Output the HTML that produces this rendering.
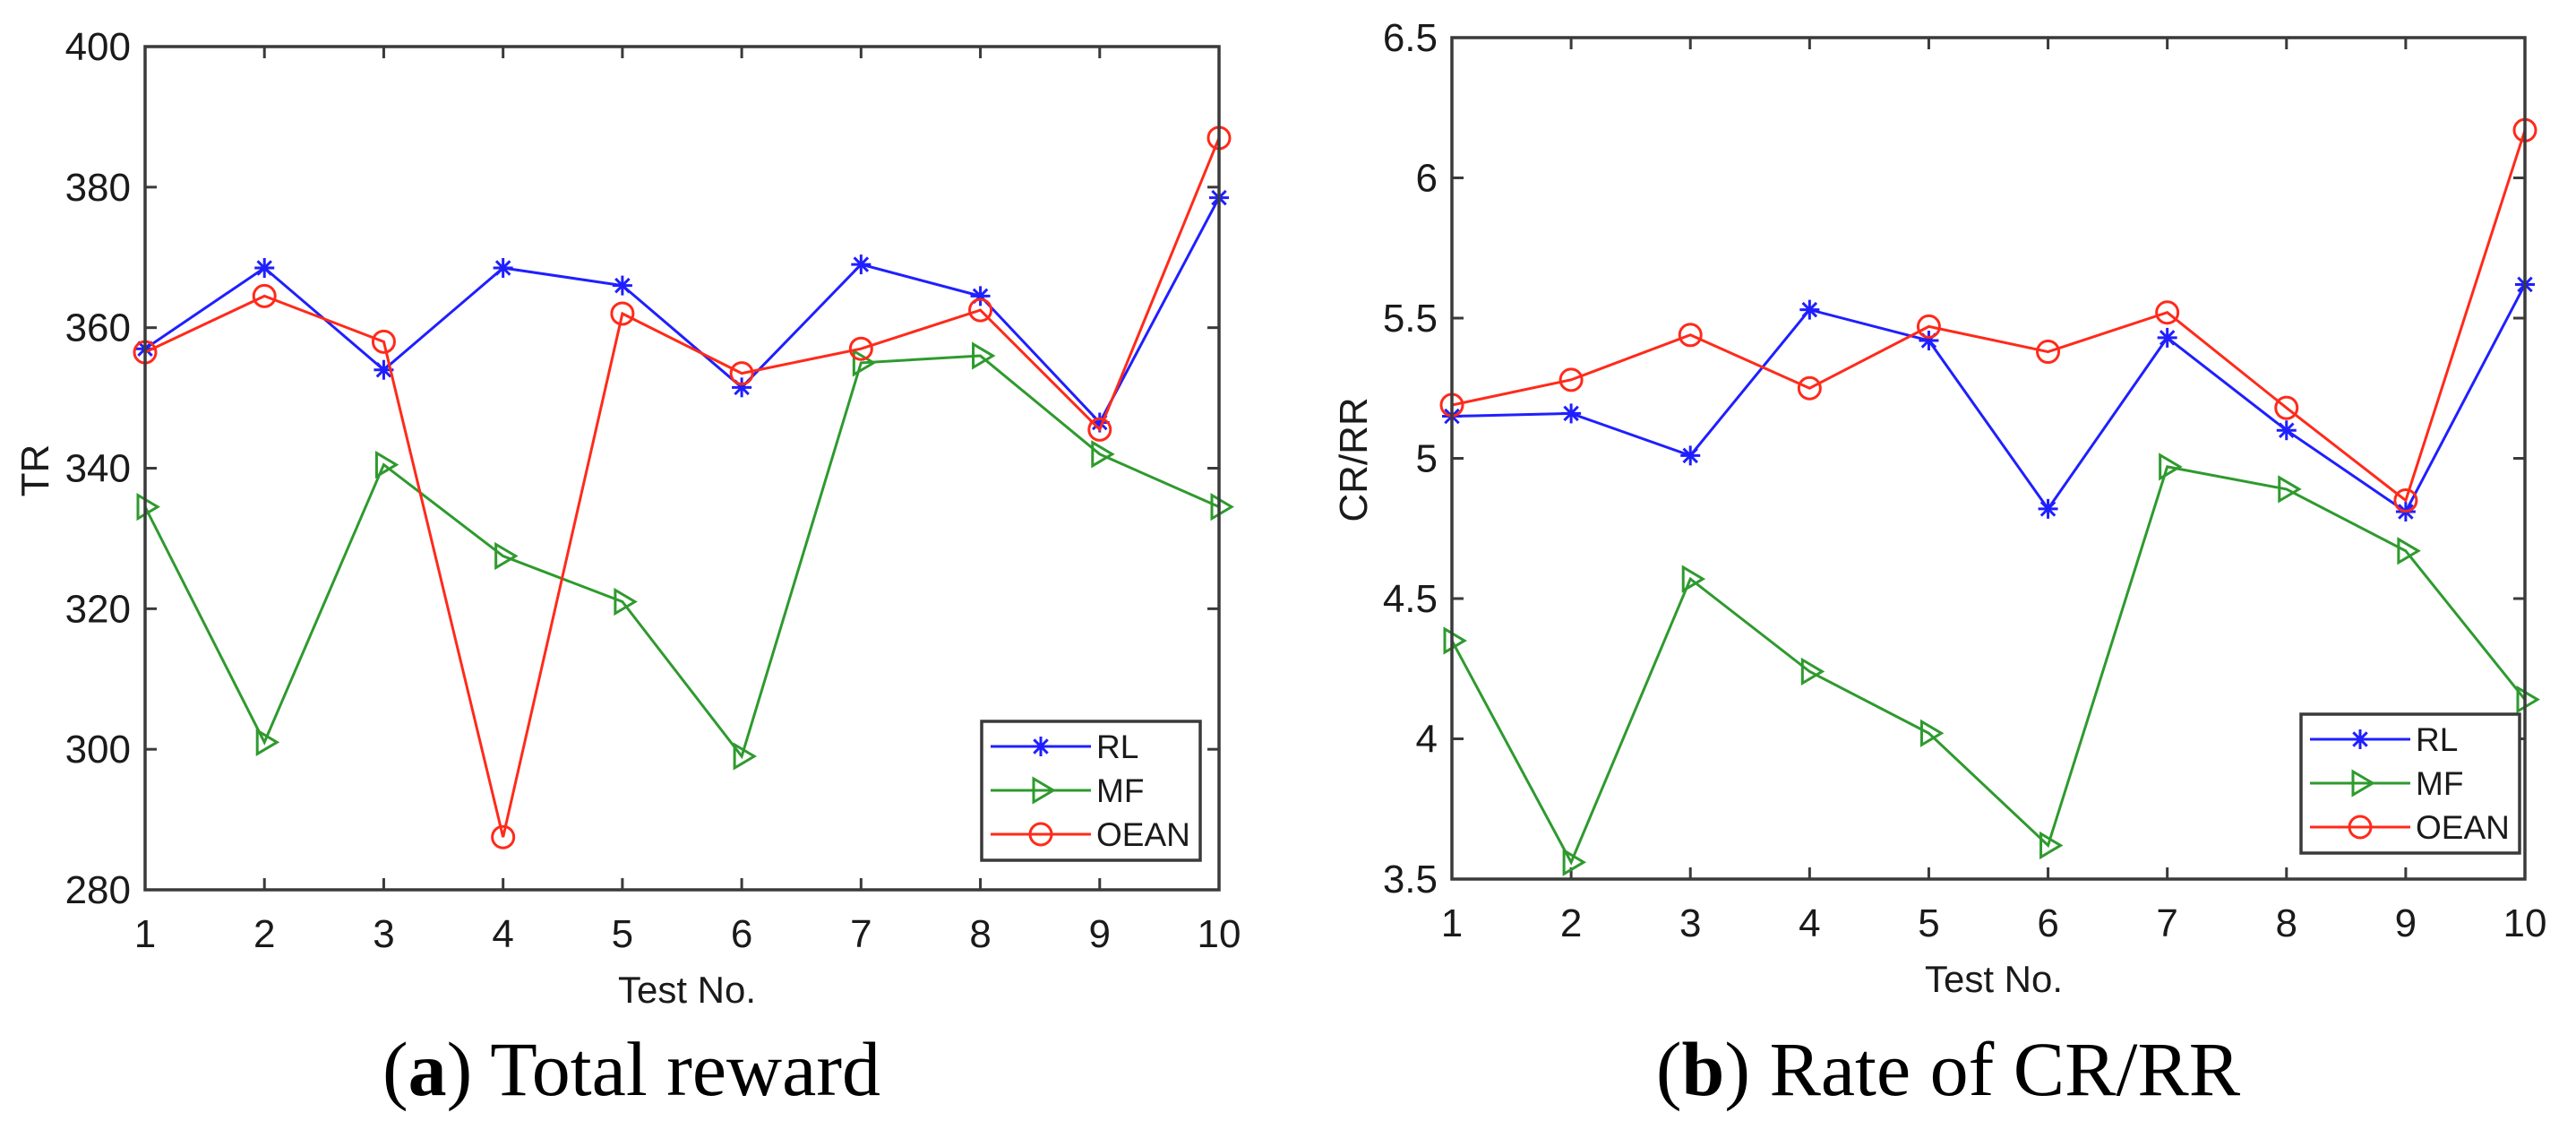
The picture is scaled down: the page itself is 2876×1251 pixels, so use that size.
<!DOCTYPE html>
<html><head><meta charset="utf-8"><style>
html,body{margin:0;padding:0;background:#fff;}
svg{display:block;}
text{font-family:"Liberation Sans",Arial,sans-serif;fill:#1a1a1a;}
.cap{font-family:"Liberation Serif",serif;fill:#000;}
</style></head><body>
<svg id="fig" width="2876" height="1251" viewBox="0 0 2876 1251" xmlns="http://www.w3.org/2000/svg"></svg>
<script>
const testNos = [1,2,3,4,5,6,7,8,9,10];
const trTicks = [280,300,320,340,360,380,400];
const trRL = [357,368.5,354,368.5,366,351.5,369,364.5,346.5,378.5];
const trMF = [334.5,301,340.5,327.5,321,299,355,356,342,334.5];
const trOEAN = [356.5,364.5,358,287.5,362,353.5,357,362.5,345.5,387];
const crTicks = [3.5,4,4.5,5,5.5,6,6.5];
const crTickLabels = ["3.5","4","4.5","5","5.5","6","6.5"];
const crRL = [5.15,5.16,5.01,5.53,5.42,4.82,5.43,5.10,4.81,5.62];
const crMF = [4.35,3.56,4.57,4.24,4.02,3.62,4.97,4.89,4.67,4.14];
const crOEAN = [5.19,5.28,5.44,5.25,5.47,5.38,5.52,5.18,4.85,6.17];
const seriesNames = ["RL","MF","OEAN"];

const NS="http://www.w3.org/2000/svg";
const svg=document.getElementById('fig');
function mk(tag,attrs,parent){const e=document.createElementNS(NS,tag);for(const k in attrs)e.setAttribute(k,attrs[k]);(parent||svg).appendChild(e);return e;}
const colors={RL:"#1f1fff",MF:"#2e9a2e",OEAN:"#ff2a1a"};

function marker(g,type,x,y){
  let m;
  if(type==="RL"){
    m=mk('g',{stroke:colors.RL,'stroke-width':3},g);
    const r=11;
    mk('line',{x1:x-r,y1:y,x2:x+r,y2:y},m);
    mk('line',{x1:x,y1:y-r,x2:x,y2:y+r},m);
    mk('line',{x1:x-r*0.7,y1:y-r*0.7,x2:x+r*0.7,y2:y+r*0.7},m);
    mk('line',{x1:x-r*0.7,y1:y+r*0.7,x2:x+r*0.7,y2:y-r*0.7},m);
  } else if(type==="MF"){
    m=mk('polygon',{points:`${x-8},${y-13} ${x+14},${y} ${x-8},${y+13}`,fill:'none',stroke:colors.MF,'stroke-width':3},g);
  } else {
    m=mk('circle',{cx:x,cy:y,r:12,fill:'none',stroke:colors.OEAN,'stroke-width':3},g);
  }
  return m;
}

function chart(cfg){
  const {L,R,T,B,ymin,ymax,yticks,ylabels,series,name,ytitle,ytx,yty,xtitleX,xtitleY,xlabY,legX,legY,capX,capText,capLetter}=cfg;
  const g=mk('g',{});
  
  
  const xs=v=>L+(v-1)*(R-L)/9;
  const ys=v=>B-(v-ymin)*(B-T)/(ymax-ymin);
  const tg=mk('g',{stroke:'#3a3a3a','stroke-width':3},g);
  
  testNos.forEach(n=>{const x=xs(n);mk('line',{x1:x,y1:B,x2:x,y2:B-13},tg);mk('line',{x1:x,y1:T,x2:x,y2:T+13},tg);});
  yticks.forEach(v=>{const y=ys(v);mk('line',{x1:L,y1:y,x2:L+13,y2:y},tg);mk('line',{x1:R,y1:y,x2:R-13,y2:y},tg);});
  series.forEach(s=>{
    const sg=mk('g',{},g);
    
    
    mk('polyline',{points:s.vals.map((v,i)=>xs(testNos[i])+','+ys(v)).join(' '),fill:'none',stroke:colors[s.name],'stroke-width':3},sg);
    s.vals.forEach((v,i)=>{const m=marker(sg,s.name,xs(testNos[i]),ys(v));
      
      });
  });
  const fr=mk('rect',{x:L,y:T,width:R-L,height:B-T,fill:'none',stroke:'#3a3a3a','stroke-width':3.5},g);
  
  testNos.forEach(n=>{const t=mk('text',{x:xs(n),y:xlabY,'font-size':44,'text-anchor':'middle'},g);t.textContent=n;
    });
  yticks.forEach((v,i)=>{const t=mk('text',{x:L-16,y:ys(v)+15,'font-size':44,'text-anchor':'end'},g);t.textContent=ylabels[i];
    });
  const xt=mk('text',{x:xtitleX,y:xtitleY,'font-size':42,'text-anchor':'middle'},g);xt.textContent='Test No.';
  
  const yt=mk('text',{x:ytx,y:yty,'font-size':44,'text-anchor':'middle',transform:`rotate(-90 ${ytx} ${yty})`},g);yt.textContent=ytitle;
  
  const lg=mk('g',{},g);
  
  mk('rect',{x:legX,y:legY,width:244,height:155,fill:'#fff',stroke:'#3a3a3a','stroke-width':3.5},lg);
  seriesNames.forEach((nm,i)=>{
    const y=legY+28+i*49;
    const e=mk('g',{},lg);
    
    
    mk('line',{x1:legX+10,y1:y,x2:legX+122,y2:y,stroke:colors[nm],'stroke-width':3},e);
    marker(e,nm,legX+66,y);
    const t=mk('text',{x:legX+128,y:y+13,'font-size':37,'text-anchor':'start'},e);t.textContent=nm;
  });
  const c=mk('text',{x:capX,y:1222,'font-size':86,'text-anchor':'middle',class:'cap'},g);
  
  const t1=mk('tspan',{},c);t1.textContent='(';
  const t2=mk('tspan',{'font-weight':'bold'},c);t2.textContent=capLetter;
  const t3=mk('tspan',{},c);t3.textContent=') '+capText;
}

chart({L:162,R:1361,T:52,B:993,ymin:280,ymax:400,yticks:trTicks,ylabels:trTicks.map(String),
  series:[{name:'RL',vals:trRL},{name:'MF',vals:trMF},{name:'OEAN',vals:trOEAN}],
  name:'chart-total-reward',ytitle:'TR',ytx:54,yty:525,xtitleX:767,xtitleY:1119,xlabY:1057,
  legX:1096,legY:805,capX:705,capText:'Total reward',capLetter:'a'});
chart({L:1621,R:2819,T:42,B:981,ymin:3.5,ymax:6.5,yticks:crTicks,ylabels:crTickLabels,
  series:[{name:'RL',vals:crRL},{name:'MF',vals:crMF},{name:'OEAN',vals:crOEAN}],
  name:'chart-cr-rr-rate',ytitle:'CR/RR',ytx:1526,yty:513,xtitleX:2226,xtitleY:1107,xlabY:1045,
  legX:2569,legY:797,capX:2175,capText:'Rate of CR/RR',capLetter:'b'});
</script>
</body></html>
